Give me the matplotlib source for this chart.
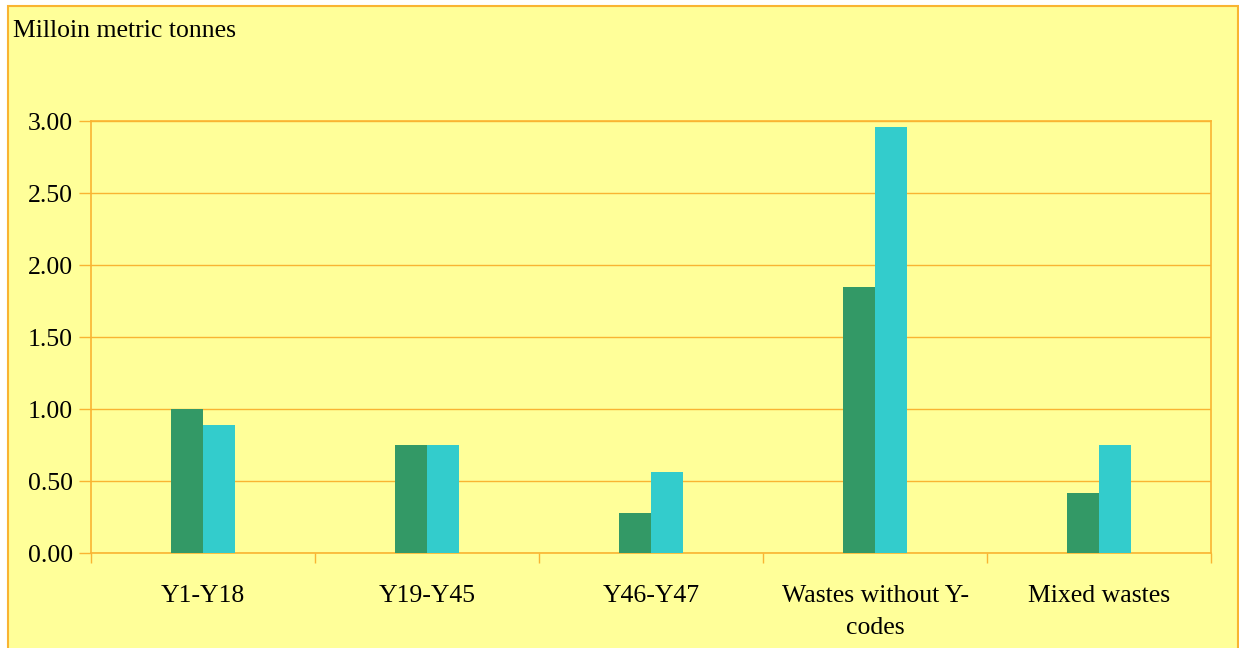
import matplotlib.pyplot as plt
import numpy as np
from matplotlib.patches import Rectangle

categories = ['Y1-Y18', 'Y19-Y45', 'Y46-Y47', 'Wastes without Y-\ncodes', 'Mixed wastes']
series_a = [1.00, 0.75, 0.28, 1.85, 0.42]
series_b = [0.89, 0.75, 0.56, 2.96, 0.75]
yticks = [0.0, 0.5, 1.0, 1.5, 2.0, 2.5, 3.0]

plt.rcParams['font.family'] = ['Liberation Serif', 'DejaVu Serif']

W, H = 1239, 648
fs = 18.5
fig = plt.figure(figsize=(W / 100, H / 100), dpi=100)
fig.patch.set_facecolor('white')
orange = '#F9B432'

# outer chart frame
frame = Rectangle((8 / W, -0.01), 1230 / W, 1.01 - 6 / H, transform=fig.transFigure,
                  facecolor='#FFFF99', edgecolor=orange, linewidth=1.5, zorder=-10)
fig.patches.append(frame)

ax = fig.add_axes([91 / W, 1 - 553 / H, 1120 / W, 432 / H])
ax.set_facecolor('#FFFF99')

x = np.arange(len(categories))
bw = 32 / 224
ax.bar(x - bw / 2, series_a, width=bw, color='#339966', zorder=3)
ax.bar(x + bw / 2, series_b, width=bw, color='#33CCCC', zorder=3)

ax.set_xlim(-0.5, len(categories) - 0.5)
ax.set_ylim(0, 3.0)
ax.set_yticks(yticks)
ax.set_yticklabels([f'{v:.2f}' for v in yticks], fontsize=fs)
ax.yaxis.grid(True, color=orange, linewidth=1)
ax.set_axisbelow(True)

ax.set_xticks(x)
ax.set_xticklabels(categories, fontsize=fs, linespacing=1.6)
ax.set_xticks(np.arange(-0.5, len(categories)), minor=True)
ax.tick_params(axis='x', which='major', length=0, pad=23)
ax.tick_params(axis='x', which='minor', length=7, color=orange, width=1)
ax.tick_params(axis='y', length=9, color=orange, width=1, pad=4)

for s in ax.spines.values():
    s.set_color(orange)
    s.set_linewidth(1.2)

fig.text(13 / W, 1 - 31 / H, 'Milloin metric tonnes', fontsize=fs, va='center', ha='left')

fig.savefig('out.png', dpi=100)
